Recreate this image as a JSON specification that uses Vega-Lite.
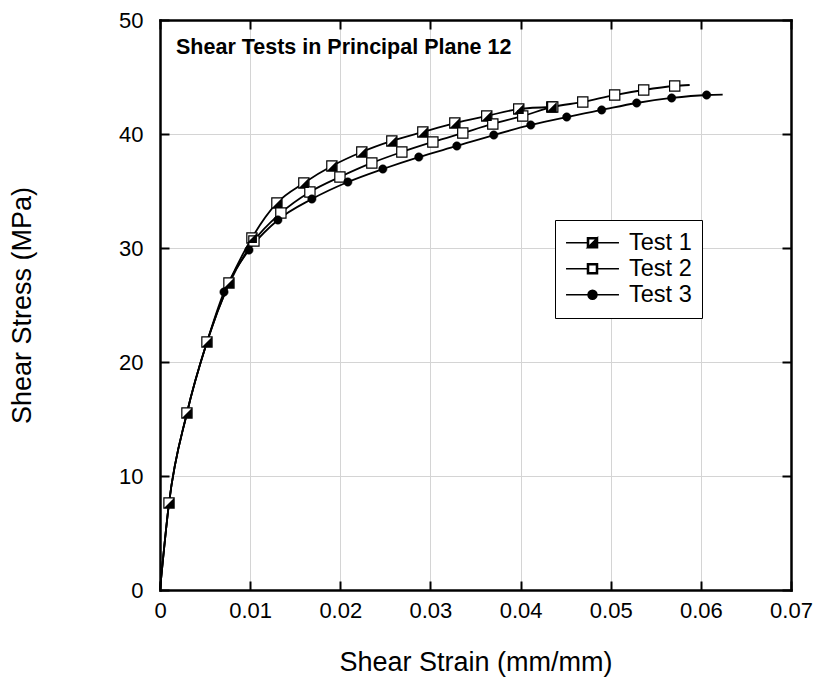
{
  "$schema": "https://vega.github.io/schema/vega-lite/v6.json",
  "autosize": "none",
  "width": 631,
  "height": 570,
  "padding": {"left": 160, "top": 20, "right": 33, "bottom": 105},
  "background": "white",
  "title": {"text": "Shear Tests in Principal Plane 12", "anchor": "start", "frame": "group", "orient": "none", "offset": 0, "dx": 16, "dy": 34, "baseline": "alphabetic", "font": "Liberation Sans", "fontSize": 21.5, "fontWeight": "bold", "color": "black"},
  "datasets": {
    "curves": [
      {"test": "Test 1", "strain": 0, "stress": 0},
      {"test": "Test 1", "strain": 0.00100, "stress": 7.63},
      {"test": "Test 1", "strain": 0.00299, "stress": 15.53},
      {"test": "Test 1", "strain": 0.00521, "stress": 21.75},
      {"test": "Test 1", "strain": 0.00765, "stress": 26.93},
      {"test": "Test 1", "strain": 0.01020, "stress": 30.88},
      {"test": "Test 1", "strain": 0.01297, "stress": 33.95},
      {"test": "Test 1", "strain": 0.01596, "stress": 35.70},
      {"test": "Test 1", "strain": 0.01907, "stress": 37.19},
      {"test": "Test 1", "strain": 0.02239, "stress": 38.42},
      {"test": "Test 1", "strain": 0.02572, "stress": 39.39},
      {"test": "Test 1", "strain": 0.02916, "stress": 40.18},
      {"test": "Test 1", "strain": 0.03271, "stress": 40.96},
      {"test": "Test 1", "strain": 0.03625, "stress": 41.58},
      {"test": "Test 1", "strain": 0.03980, "stress": 42.19},
      {"test": "Test 1", "strain": 0.04346, "stress": 42.37},
      {"test": "Test 2", "strain": 0, "stress": 0},
      {"test": "Test 2", "strain": 0.00100, "stress": 7.63},
      {"test": "Test 2", "strain": 0.00299, "stress": 15.53},
      {"test": "Test 2", "strain": 0.00521, "stress": 21.75},
      {"test": "Test 2", "strain": 0.00760, "stress": 26.75},
      {"test": "Test 2", "strain": 0.01042, "stress": 30.61},
      {"test": "Test 2", "strain": 0.01341, "stress": 33.07},
      {"test": "Test 2", "strain": 0.01663, "stress": 34.91},
      {"test": "Test 2", "strain": 0.01996, "stress": 36.23},
      {"test": "Test 2", "strain": 0.02350, "stress": 37.46},
      {"test": "Test 2", "strain": 0.02683, "stress": 38.42},
      {"test": "Test 2", "strain": 0.03027, "stress": 39.30},
      {"test": "Test 2", "strain": 0.03359, "stress": 40.09},
      {"test": "Test 2", "strain": 0.03692, "stress": 40.88},
      {"test": "Test 2", "strain": 0.04024, "stress": 41.58},
      {"test": "Test 2", "strain": 0.04357, "stress": 42.37},
      {"test": "Test 2", "strain": 0.04690, "stress": 42.81},
      {"test": "Test 2", "strain": 0.05044, "stress": 43.42},
      {"test": "Test 2", "strain": 0.05366, "stress": 43.86},
      {"test": "Test 2", "strain": 0.05710, "stress": 44.21},
      {"test": "Test 2", "strain": 0.05876, "stress": 44.30},
      {"test": "Test 3", "strain": 0, "stress": 0},
      {"test": "Test 3", "strain": 0.00100, "stress": 7.63},
      {"test": "Test 3", "strain": 0.00299, "stress": 15.53},
      {"test": "Test 3", "strain": 0.00521, "stress": 21.75},
      {"test": "Test 3", "strain": 0.00710, "stress": 26.14},
      {"test": "Test 3", "strain": 0.00987, "stress": 29.82},
      {"test": "Test 3", "strain": 0.01308, "stress": 32.46},
      {"test": "Test 3", "strain": 0.01685, "stress": 34.30},
      {"test": "Test 3", "strain": 0.02084, "stress": 35.79},
      {"test": "Test 3", "strain": 0.02472, "stress": 36.93},
      {"test": "Test 3", "strain": 0.02871, "stress": 37.98},
      {"test": "Test 3", "strain": 0.03293, "stress": 38.95},
      {"test": "Test 3", "strain": 0.03703, "stress": 39.91},
      {"test": "Test 3", "strain": 0.04113, "stress": 40.79},
      {"test": "Test 3", "strain": 0.04512, "stress": 41.49},
      {"test": "Test 3", "strain": 0.04900, "stress": 42.11},
      {"test": "Test 3", "strain": 0.05288, "stress": 42.72},
      {"test": "Test 3", "strain": 0.05676, "stress": 43.16},
      {"test": "Test 3", "strain": 0.06064, "stress": 43.42},
      {"test": "Test 3", "strain": 0.06242, "stress": 43.45}
    ],
    "markers": [
      {"test": "Test 1", "strain": 0.00100, "stress": 7.63},
      {"test": "Test 1", "strain": 0.00299, "stress": 15.53},
      {"test": "Test 1", "strain": 0.00521, "stress": 21.75},
      {"test": "Test 1", "strain": 0.00765, "stress": 26.93},
      {"test": "Test 1", "strain": 0.01020, "stress": 30.88},
      {"test": "Test 1", "strain": 0.01297, "stress": 33.95},
      {"test": "Test 1", "strain": 0.01596, "stress": 35.70},
      {"test": "Test 1", "strain": 0.01907, "stress": 37.19},
      {"test": "Test 1", "strain": 0.02239, "stress": 38.42},
      {"test": "Test 1", "strain": 0.02572, "stress": 39.39},
      {"test": "Test 1", "strain": 0.02916, "stress": 40.18},
      {"test": "Test 1", "strain": 0.03271, "stress": 40.96},
      {"test": "Test 1", "strain": 0.03625, "stress": 41.58},
      {"test": "Test 1", "strain": 0.03980, "stress": 42.19},
      {"test": "Test 1", "strain": 0.04346, "stress": 42.37},
      {"test": "Test 2", "strain": 0.01042, "stress": 30.61},
      {"test": "Test 2", "strain": 0.01341, "stress": 33.07},
      {"test": "Test 2", "strain": 0.01663, "stress": 34.91},
      {"test": "Test 2", "strain": 0.01996, "stress": 36.23},
      {"test": "Test 2", "strain": 0.02350, "stress": 37.46},
      {"test": "Test 2", "strain": 0.02683, "stress": 38.42},
      {"test": "Test 2", "strain": 0.03027, "stress": 39.30},
      {"test": "Test 2", "strain": 0.03359, "stress": 40.09},
      {"test": "Test 2", "strain": 0.03692, "stress": 40.88},
      {"test": "Test 2", "strain": 0.04024, "stress": 41.58},
      {"test": "Test 2", "strain": 0.04357, "stress": 42.37},
      {"test": "Test 2", "strain": 0.04690, "stress": 42.81},
      {"test": "Test 2", "strain": 0.05044, "stress": 43.42},
      {"test": "Test 2", "strain": 0.05366, "stress": 43.86},
      {"test": "Test 2", "strain": 0.05710, "stress": 44.21},
      {"test": "Test 3", "strain": 0.00710, "stress": 26.14},
      {"test": "Test 3", "strain": 0.00987, "stress": 29.82},
      {"test": "Test 3", "strain": 0.01308, "stress": 32.46},
      {"test": "Test 3", "strain": 0.01685, "stress": 34.30},
      {"test": "Test 3", "strain": 0.02084, "stress": 35.79},
      {"test": "Test 3", "strain": 0.02472, "stress": 36.93},
      {"test": "Test 3", "strain": 0.02871, "stress": 37.98},
      {"test": "Test 3", "strain": 0.03293, "stress": 38.95},
      {"test": "Test 3", "strain": 0.03703, "stress": 39.91},
      {"test": "Test 3", "strain": 0.04113, "stress": 40.79},
      {"test": "Test 3", "strain": 0.04512, "stress": 41.49},
      {"test": "Test 3", "strain": 0.04900, "stress": 42.11},
      {"test": "Test 3", "strain": 0.05288, "stress": 42.72},
      {"test": "Test 3", "strain": 0.05676, "stress": 43.16},
      {"test": "Test 3", "strain": 0.06064, "stress": 43.42}
    ]
  },
  "layer": [
    {
      "data": {"name": "curves"},
      "mark": {"type": "line", "interpolate": "monotone", "strokeWidth": 1.8},
      "encoding": {
        "x": {"field": "strain", "type": "quantitative", "scale": {"domain": [0, 0.07], "nice": false, "zero": true},
          "axis": {"title": "Shear Strain (mm/mm)", "values": [0, 0.01, 0.02, 0.03, 0.04, 0.05, 0.06, 0.07], "format": "~g", "orient": "bottom", "grid": true, "tickSize": -9, "labelPadding": 19, "titlePadding": 28}},
        "y": {"field": "stress", "type": "quantitative", "scale": {"domain": [0, 50], "nice": false},
          "axis": {"title": "Shear Stress (MPa)", "values": [0, 10, 20, 30, 40, 50], "orient": "left", "grid": true, "tickSize": -9, "labelPadding": 26, "titlePadding": 82}},
        "color": {"field": "test", "type": "nominal", "scale": {"domain": ["Test 1", "Test 2", "Test 3"], "range": ["#000000", "#000000", "#000000"]},
          "legend": {"orient": "none", "legendX": 395, "legendY": 200, "title": null, "strokeColor": "black", "fillColor": "white", "padding": 10, "labelFont": "Liberation Sans", "labelFontSize": 23.5, "labelColor": "black", "labelOffset": 9, "symbolSize": 2800, "clipHeight": 25.5, "rowPadding": 0,
            "encode": {"symbols": {"update": {
              "shape": {"signal": "datum.value === 'Test 1' ? 'M-1,0H-0.19M0.19,0H1M-0.19,-0.19H0.19V0.19H-0.19ZM-0.15,-0.15V0.15H0.15V-0.15ZM0.19,-0.19L0.19,0.19L-0.19,0.19Z' : datum.value === 'Test 2' ? 'M-1,0H-0.19M0.19,0H1M-0.19,-0.19H0.19V0.19H-0.19ZM-0.15,-0.15V0.15H0.15V-0.15Z' : 'M-1,0H-0.17M0.17,0H1M-0.17,0A0.17,0.17 0 1,0 0.17,0A0.17,0.17 0 1,0 -0.17,0Z'"},
              "fill": {"value": "black"}, "stroke": {"value": "black"}, "strokeWidth": {"value": 1.5}, "size": {"value": 2800}, "opacity": {"value": 1}}}}}}
      }
    },
    {
      "data": {"name": "markers"},
      "transform": [{"filter": "datum.test !== 'Test 3'"}],
      "mark": {"type": "point", "shape": "square", "filled": true, "fill": "white", "stroke": "black", "strokeWidth": 1.2, "size": 105, "opacity": 1},
      "encoding": {
        "x": {"field": "strain", "type": "quantitative", "axis": {"orient": "top", "labels": false, "title": null, "grid": false, "values": [0, 0.01, 0.02, 0.03, 0.04, 0.05, 0.06, 0.07], "tickSize": -9}},
        "y": {"field": "stress", "type": "quantitative", "axis": {"orient": "right", "labels": false, "title": null, "grid": false, "values": [0, 10, 20, 30, 40, 50], "tickSize": -9}}
      }
    },
    {
      "data": {"name": "markers"},
      "transform": [{"filter": "datum.test === 'Test 1'"}],
      "mark": {"type": "point", "shape": "M1,-1L1,1L-1,1Z", "filled": true, "fill": "black", "strokeWidth": 0, "size": 100, "opacity": 1},
      "encoding": {
        "x": {"field": "strain", "type": "quantitative", "axis": null},
        "y": {"field": "stress", "type": "quantitative", "axis": null}
      }
    },
    {
      "data": {"name": "markers"},
      "transform": [{"filter": "datum.test === 'Test 3'"}],
      "mark": {"type": "point", "shape": "circle", "filled": true, "fill": "black", "stroke": "black", "strokeWidth": 0.5, "size": 70, "opacity": 1},
      "encoding": {
        "x": {"field": "strain", "type": "quantitative", "axis": null},
        "y": {"field": "stress", "type": "quantitative", "axis": null}
      }
    }
  ],
  "resolve": {"axis": {"x": "independent", "y": "independent"}},
  "config": {
    "view": {"stroke": null},
    "font": "Liberation Sans",
    "axis": {"domainColor": "black", "domainWidth": 2.5, "domainCap": "square", "tickColor": "black", "tickWidth": 2, "gridColor": "#d4d4d4", "gridWidth": 1, "labelFont": "Liberation Sans", "labelFontSize": 22, "labelColor": "black", "titleFont": "Liberation Sans", "titleFontSize": 27, "titleFontWeight": "normal", "titleColor": "black", "labelFlush": false, "labelOverlap": false}
  }
}
